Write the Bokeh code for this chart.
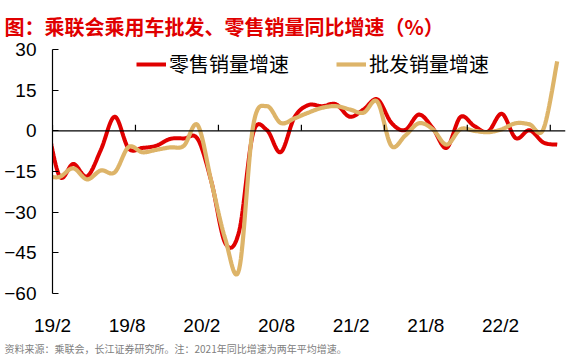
import numpy as np
from bokeh.plotting import figure
from bokeh.models import (Range1d, FixedTicker, Span, Legend, LegendItem, Title)
from bokeh.embed import file_html
from bokeh.resources import INLINE

# ---------------- data (monthly, 2019-01 .. 2022-02) ----------------
retail_yoy = [6.0, -16.7, -12.2, -16.8, -7.0, 5.2, -6.5, -6.3, -5.5, -3.0, -2.8, -3.0,
              -19.0, -41.5, -37.0, -1.0, 0.3, -7.9, 5.0, 9.5, 9.1, 9.8, 5.2, 7.9,
              11.6, 3.0, 0.3, 6.0, 1.0, -6.3, 5.1, 1.8, -0.3, 6.3, -2.7, 0.2, -4.3, -5.1]
wholesale_yoy = [-16.6, -17.0, -13.8, -17.9, -14.6, -15.3, -6.0, -7.9, -7.0, -6.1, -5.5, 2.1,
                 -19.0, -40.0, -51.0, 1.5, 9.1, 2.9, 4.6, 6.7, 8.5, 9.1, 7.9, 6.7,
                 10.7, -5.5, -1.8, 2.8, 0.6, -5.1, 0.6, 0.0, -0.5, 0.6, 2.8, 2.4, 0.6, 25.6]
x_labels = ["19/2", "19/8", "20/2", "20/8", "21/2", "21/8", "22/2"]
y_ticks = [-60, -45, -30, -15, 0, 15, 30]
series_names = ["零售销量增速", "批发销量增速"]

title_text = "图：乘联会乘用车批发、零售销量同比增速（%）"
note_text = "资料来源：乘联会，长江证券研究所。注：2021年同比增速为两年平均增速。"

RED = "#E00000"
GOLD = "#DDB469"

# month positions: category centres (Jan-2019 sits just left of the axis)
xs = np.arange(len(retail_yoy)) - 0.5


def smooth(x, y, n=16):
    """Catmull-Rom smoothing (like a spreadsheet's smoothed line)."""
    x = np.asarray(x, float)
    y = np.asarray(y, float)
    P = np.column_stack([x, y])
    P = np.vstack([P[0], P, P[-1]])
    out = []
    t = np.linspace(0, 1, n, endpoint=False)[:, None]
    for i in range(1, len(P) - 2):
        p0, p1, p2, p3 = P[i - 1], P[i], P[i + 1], P[i + 2]
        seg = 0.5 * (2 * p1 + (-p0 + p2) * t + (2 * p0 - 5 * p1 + 4 * p2 - p3) * t ** 2
                     + (-p0 + 3 * p1 - 3 * p2 + p3) * t ** 3)
        out.append(seg)
    out.append(P[-2][None, :])
    out = np.vstack(out)
    return out[:, 0], out[:, 1]


rx, ry = smooth(xs, retail_yoy)
wx, wy = smooth(xs, wholesale_yoy)

p = figure(frame_width=513, frame_height=244, x_range=Range1d(0, 37.1), y_range=Range1d(-60, 30),
           output_backend="svg", toolbar_location=None,
           min_border_left=52, min_border_right=17, min_border_top=49, min_border_bottom=65)
p.outline_line_color = None
p.grid.visible = False
p.background_fill_color = "white"
p.border_fill_color = "white"

r1 = p.line(rx, ry, line_color=RED, line_width=4)
r2 = p.line(wx, wy, line_color=GOLD, line_width=4.2)

# zero line with small upward ticks every 6 months
p.add_layout(Span(location=0, dimension="width", line_color="black", line_width=1.2))
tick_months = list(range(0, 37, 6))
p.segment(x0=tick_months, y0=[0] * len(tick_months), x1=tick_months,
          y1=[2.2] * len(tick_months), line_color="black", line_width=1.2)

# x labels (positioned as in the reference layout)
label_pos = [i * 5.4 for i in range(len(x_labels))]
xa = p.xaxis[0]
xa.ticker = FixedTicker(ticks=label_pos)
xa.major_label_overrides = {pos: lab for pos, lab in zip(label_pos, x_labels)}
xa.axis_line_color = None
xa.major_tick_line_color = None
xa.minor_tick_line_color = None
xa.major_tick_in = 0
xa.major_tick_out = 0
xa.major_label_standoff = 21
xa.major_label_text_font = "Liberation Sans"
xa.major_label_text_font_size = "19px"
xa.major_label_text_color = "black"

ya = p.yaxis[0]
ya.ticker = FixedTicker(ticks=y_ticks)
ya.major_tick_in = 6
ya.major_tick_out = 0
ya.minor_tick_line_color = None
ya.axis_line_color = "black"
ya.axis_line_width = 1.2
ya.major_tick_line_color = "black"
ya.major_tick_line_width = 1.2
ya.major_label_standoff = 16
ya.major_label_text_font = "Liberation Sans"
ya.major_label_text_font_size = "19px"
ya.major_label_text_color = "black"

legend = Legend(items=[LegendItem(label=series_names[0], renderers=[r1]),
                       LegendItem(label=series_names[1], renderers=[r2])],
                location=(84, 215), orientation="horizontal",
                background_fill_alpha=0, border_line_alpha=0,
                glyph_width=30, glyph_height=20, label_height=20, label_standoff=3,
                spacing=47, padding=0, margin=0,
                label_text_font="Noto Sans CJK SC", label_text_font_size="20px",
                label_text_color="black")
p.add_layout(legend)

p.title.text = title_text
p.title.align = "left"
p.title.offset = -48
p.title.standoff = 18
p.title.text_font = "Noto Sans CJK SC"
p.title.text_font_size = "20px"
p.title.text_font_style = "bold"
p.title.text_color = RED

p.add_layout(Title(text=note_text, align="left", offset=-48, standoff=1,
                   text_font="Noto Sans CJK SC", text_font_size="10px",
                   text_font_style="normal", text_color="#808080"), "below")

open("out.html", "w").write(file_html(p, INLINE))
